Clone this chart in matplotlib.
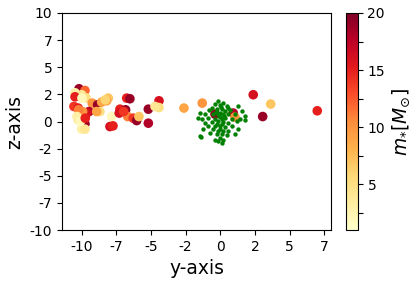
import numpy as np
import matplotlib
matplotlib.use("Agg")
import matplotlib.pyplot as plt

# coloured stars: y, z position and mass
star_y = [-10.19, -9.76, -10.48, -10.00, -9.69, -10.48, -9.24, -8.85, -8.56, -8.08,
          -8.20, -10.56, -10.25, -10.07, -10.12, -9.76, -10.00, -9.76, -10.25, -9.47,
          -9.64, -9.93, -8.68, -8.92, -7.84, -7.96, -7.74, -7.24, -7.29, -6.83,
          -6.75, -6.52, -6.68, -6.28, -6.03, -5.87, -5.19, -5.19, -4.42, -4.42,
          -4.71, -2.62, -1.30, 2.38, 3.64, 3.06, 7.00, -0.38, 0.94, 1.06,
          -9.98, -10.22, -10.34, -10.10, -8.30, -9.74, -6.97]
star_z = [3.02, 2.86, 2.65, 2.47, 2.19, 2.28, 1.70, 1.54, 1.79, 2.16,
          1.91, 1.39, 1.24, 0.92, 0.46, -0.21, -0.70, -0.70, 0.16, 0.92,
          0.78, 0.92, 0.92, 0.92, 0.46, -0.46, -0.40, 1.14, 0.78, 1.08,
          2.16, 2.10, 0.46, 0.31, 0.09, 0.46, 1.14, -0.15, 1.91, 1.29,
          1.39, 1.24, 1.70, 2.47, 1.61, 0.46, 0.99, 0.68, 0.78, 0.41,
          2.16, 1.08, 0.46, 0.00, 2.00, 0.31, 0.92]
star_m = [19, 12, 3, 4, 5, 15, 10, 19, 9, 7,
          9, 14, 15, 16, 19, 19, 3, 4, 4, 18,
          16, 10, 5, 9, 2, 16, 15, 15, 16, 19,
          15, 19, 11, 14, 19, 7, 19, 18, 16, 5,
          4, 9, 10, 16, 7, 19, 15, 19, 18, 10,
          2, 11, 3, 2, 6, 15, 14]

# green cluster
gas_y = [-0.14, 0.22, -0.38, -0.02, 0.46, -0.62, 0.58, 1.30, -0.82, -0.26,
         0.10, 0.34, 0.70, 1.54, -1.46, -1.10, -0.50, -0.14, 0.22, 0.58,
         1.06, 1.78, -0.86, -0.38, -0.02, 0.34, 0.82, 1.42, -1.34, -1.10,
         -0.62, -0.14, 0.22, 0.58, 1.18, 1.78, -0.86, -0.38, -0.02, 0.34,
         0.82, 1.30, -1.22, -0.50, -0.14, 0.22, 0.58, -0.74, -0.26, 0.10,
         0.46, 1.06, -0.02, 0.22, -0.38, -1.46, 0.10, -0.14, -0.10, 0.10,
         0.00, -0.20, 0.15, 0.05, -0.05, 0.30, -0.30, -1.59, -1.39]
gas_z = [1.88, 1.73, 1.57, 1.51, 1.42, 1.27, 1.27, 1.42, 1.02, 1.11,
         1.11, 0.96, 1.02, 0.96, 0.81, 0.65, 0.65, 0.71, 0.65, 0.71,
         0.65, 0.50, 0.34, 0.28, 0.41, 0.34, 0.28, 0.19, 0.19, -0.12,
         -0.02, 0.04, -0.02, -0.12, 0.04, 0.10, -0.43, -0.43, -0.43, -0.52,
         -0.43, -0.73, -0.73, -0.73, -0.83, -0.89, -0.83, -1.04, -1.19, -1.13,
         -1.26, -1.13, -1.50, -1.66, -1.66, -1.35, -1.96, -1.81, 0.50, 0.20,
         0.80, -0.20, -0.25, 1.30, -0.65, 0.55, 0.90, 0.37, -1.41]

xticks = np.linspace(-10, 7.5, 8)
zticks = np.linspace(-10, 10, 9)
cticks = np.arange(2.5, 20.1, 2.5)

fig = plt.figure(figsize=(4.16, 2.82), dpi=100)
ax = fig.add_axes([0.149, 0.184, 0.647, 0.770])
cax = fig.add_axes([0.832, 0.184, 0.028, 0.770])

sc = ax.scatter(star_y, star_z, c=star_m, cmap='YlOrRd', vmin=1, vmax=20,
                s=48, linewidths=0, zorder=2)
ax.scatter(gas_y, gas_z, c='green', s=10, linewidths=0, zorder=3)

ax.set_xlim(-11.42, 8.0)
ax.set_ylim(-10, 10)
ax.set_xticks(xticks)
ax.set_xticklabels([str(int(v)) for v in xticks])
ax.set_yticks(zticks)
ax.set_yticklabels([str(int(v)) for v in zticks])
ax.tick_params(labelsize=10)
ax.set_xlabel('y-axis', fontsize=13.5)
ax.set_ylabel('z-axis', fontsize=13.5)

cbar = fig.colorbar(sc, cax=cax)
cbar.set_ticks(cticks)
cbar.set_ticklabels(['' if v % 5 else str(int(v)) for v in cticks])
cbar.ax.tick_params(labelsize=10)
cbar.set_label(r'$m_{*}[M_{\odot}]$', fontsize=13.5)

fig.savefig('out.png', dpi=100)
